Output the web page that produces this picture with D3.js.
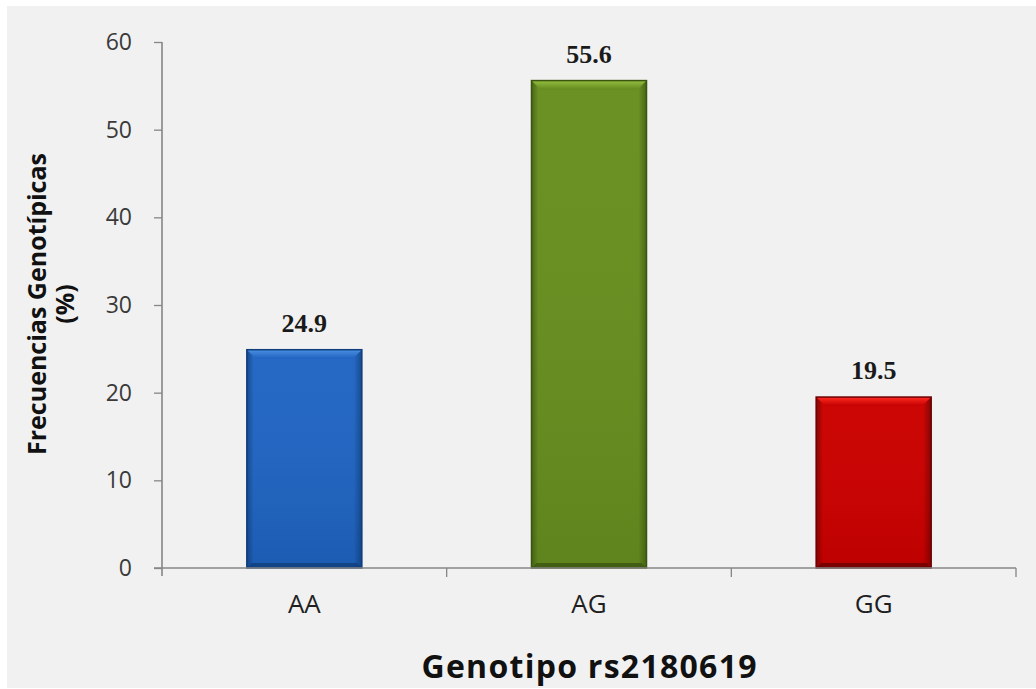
<!DOCTYPE html>
<html>
<head>
<meta charset="utf-8">
<script src="https://cdn.jsdelivr.net/npm/d3@7/dist/d3.min.js"></script>
<style>
  html, body { margin: 0; padding: 0; background: #ffffff; }
  svg { display: block; }
</style>
</head>
<body>
<svg id="chart" width="1036" height="689"></svg>
<script>
// Genotype frequencies for rs2180619
const genotypes = ["AA", "AG", "GG"];
const frequencies = [24.9, 55.6, 19.5];
const yTicks = [0, 10, 20, 30, 40, 50, 60];
const barColors = [
  { light: "#4a90e2", mid: "#1f62c0", dark: "#0f3d7c", bottom: "#174f98" },
  { light: "#93bf40", mid: "#64891f", dark: "#3b5510", bottom: "#567a1a" },
  { light: "#ff2a20", mid: "#c20000", dark: "#6a0000", bottom: "#b20000" }
];

const svg = d3.select("#chart");
const W = 1036, H = 689;

// panel background
svg.append("rect").attr("x", 7).attr("y", 6).attr("width", W - 7).attr("height", H - 7)
  .attr("fill", "#f1f1f1");

const plot = { left: 162, right: 1016, top: 42, bottom: 568 };

const x = d3.scaleBand().domain(genotypes).range([plot.left, plot.right])
  .paddingInner(0.596).paddingOuter(0.298);
const xAxisScale = d3.scaleBand().domain(genotypes).range([plot.left, plot.right]);
const y = d3.scaleLinear().domain([0, 60]).range([plot.bottom, plot.top]);

// gradients for the bevelled bars
const defs = svg.append("defs");
barColors.forEach((c, i) => {
  const g = defs.append("linearGradient").attr("id", "hg" + i)
    .attr("x1", "0").attr("x2", "1").attr("y1", "0").attr("y2", "0");
  g.append("stop").attr("offset", "0").attr("stop-color", c.dark);
  g.append("stop").attr("offset", "0.06").attr("stop-color", c.mid);
  g.append("stop").attr("offset", "0.93").attr("stop-color", c.mid);
  g.append("stop").attr("offset", "1").attr("stop-color", c.dark);
  const v = defs.append("linearGradient").attr("id", "vg" + i)
    .attr("x1", "0").attr("x2", "0").attr("y1", "0").attr("y2", "1");
  v.append("stop").attr("offset", "0").attr("stop-color", c.light).attr("stop-opacity", 0.15);
  v.append("stop").attr("offset", "1").attr("stop-color", c.bottom).attr("stop-opacity", 0.35);
  const t = defs.append("linearGradient").attr("id", "tg" + i)
    .attr("x1", "0").attr("x2", "0").attr("y1", "0").attr("y2", "1");
  t.append("stop").attr("offset", "0").attr("stop-color", c.light);
  t.append("stop").attr("offset", "1").attr("stop-color", c.mid);
});

// bars
const bars = svg.append("g").selectAll("g").data(genotypes).join("g");
bars.append("rect")
  .attr("x", d => x(d)).attr("width", x.bandwidth())
  .attr("y", (d, i) => y(frequencies[i]))
  .attr("height", (d, i) => y(0) - y(frequencies[i]))
  .attr("fill", (d, i) => `url(#hg${i})`);
bars.append("rect")
  .attr("x", d => x(d)).attr("width", x.bandwidth())
  .attr("y", (d, i) => y(frequencies[i]))
  .attr("height", (d, i) => y(0) - y(frequencies[i]))
  .attr("fill", (d, i) => `url(#vg${i})`);
// top bevel
bars.append("path")
  .attr("d", (d, i) => {
    const x0 = x(d), x1 = x(d) + x.bandwidth(), yt = y(frequencies[i]), b = 9;
    return `M${x0},${yt}L${x1},${yt}L${x1 - b},${yt + b}L${x0 + b},${yt + b}Z`;
  })
  .attr("fill", (d, i) => `url(#tg${i})`);
// bottom bevel shade
bars.append("path")
  .attr("d", (d) => {
    const x0 = x(d), x1 = x(d) + x.bandwidth(), yb = y(0), b = 5;
    return `M${x0},${yb}L${x1},${yb}L${x1 - b},${yb - b}L${x0 + b},${yb - b}Z`;
  })
  .attr("fill", (d, i) => barColors[i].dark).attr("opacity", 0.8);
bars.append("rect")
  .attr("x", d => x(d)).attr("width", x.bandwidth())
  .attr("y", (d, i) => y(frequencies[i]))
  .attr("height", (d, i) => y(0) - y(frequencies[i]))
  .attr("fill", "none")
  .attr("stroke", (d, i) => barColors[i].dark).attr("stroke-width", 1.5);

// value labels
svg.append("g").selectAll("text").data(genotypes).join("text")
  .attr("x", d => x(d) + x.bandwidth() / 2)
  .attr("y", (d, i) => y(frequencies[i]) - 18)
  .attr("text-anchor", "middle")
  .attr("font-family", "'Liberation Serif', 'DejaVu Serif', serif")
  .attr("font-weight", "bold").attr("font-size", 26).attr("fill", "#1a1a1a")
  .text((d, i) => frequencies[i].toFixed(1));

// y axis
const yAxis = svg.append("g").attr("transform", `translate(${plot.left},0)`)
  .call(d3.axisLeft(y).tickValues(yTicks).tickSize(8).tickPadding(22));
yAxis.select(".domain").attr("stroke", "#868686").attr("stroke-width", 1.6)
  .attr("d", `M0,${plot.top}V${plot.bottom + 8}`);
yAxis.selectAll(".tick line").attr("stroke", "#868686").attr("stroke-width", 1.3);
yAxis.selectAll(".tick text")
  .attr("font-family", "'Open Sans', 'Noto Sans', sans-serif")
  .attr("font-size", 23).attr("fill", "#3a3a3a");

// x axis
const xAxis = svg.append("g").attr("transform", `translate(0,${plot.bottom})`)
  .call(d3.axisBottom(xAxisScale).tickSize(0).tickPadding(27));
xAxis.select(".domain").attr("stroke", "#868686").attr("stroke-width", 1.6)
  .attr("d", `M${plot.left - 8},0H${plot.right}`);
xAxis.selectAll(".tick text")
  .attr("font-family", "'Open Sans', 'Noto Sans', sans-serif")
  .attr("font-size", 26).attr("fill", "#1f1f1f");
// category boundary ticks
const boundaries = genotypes.map(d => xAxisScale(d)).slice(1).concat([plot.right]);
xAxis.append("g").selectAll("line").data(boundaries).join("line")
  .attr("x1", d => d).attr("x2", d => d).attr("y1", 0).attr("y2", 9)
  .attr("stroke", "#868686").attr("stroke-width", 1.3);

// axis titles
svg.append("text")
  .attr("x", 589).attr("y", 678)
  .attr("text-anchor", "middle")
  .attr("textLength", 335).attr("lengthAdjust", "spacing")
  .attr("font-family", "'Open Sans', 'Noto Sans', sans-serif")
  .attr("font-weight", "bold").attr("font-size", 32).attr("fill", "#111111")
  .text("Genotipo rs2180619");

const yt = svg.append("text")
  .attr("transform", "translate(0,304) rotate(-90)")
  .attr("text-anchor", "middle")
  .attr("font-family", "'Open Sans', 'Noto Sans', sans-serif")
  .attr("font-weight", "bold").attr("font-size", 25).attr("fill", "#111111");
yt.append("tspan").attr("x", 0).attr("y", 46).text("Frecuencias Genotípicas");
yt.append("tspan").attr("x", 0).attr("y", 74).text("(%)");
</script>
</body>
</html>
